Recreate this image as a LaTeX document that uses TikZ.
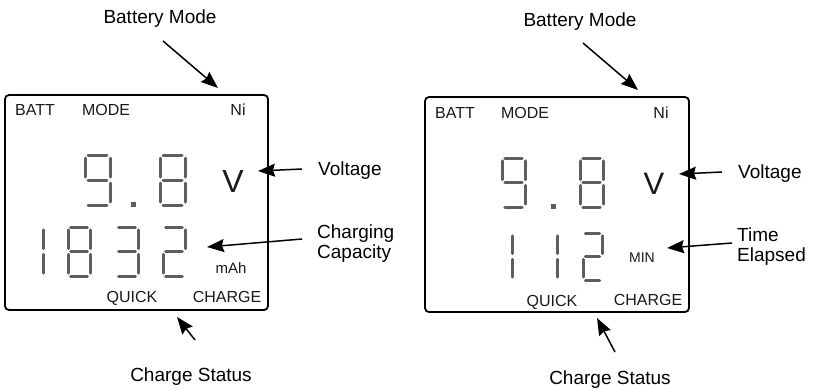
\documentclass[tikz,border=0pt]{standalone}
\usepackage{fontspec}
\setmainfont{Liberation Sans}
\usetikzlibrary{arrows.meta}
\definecolor{lcdGray}{RGB}{94,94,94}
\definecolor{lcdInk}{RGB}{25,25,25}
\newcommand{\segA}{\draw[lcdseg] (0.12,0) -- (0.88,0);}
\newcommand{\segB}{\draw[lcdseg] (1,0.06) -- (1,0.44);}
\newcommand{\segC}{\draw[lcdseg] (1,0.56) -- (1,0.94);}
\newcommand{\segD}{\draw[lcdseg] (0.12,1) -- (0.88,1);}
\newcommand{\segE}{\draw[lcdseg] (0,0.56) -- (0,0.94);}
\newcommand{\segF}{\draw[lcdseg] (0,0.06) -- (0,0.44);}
\newcommand{\segG}{\draw[lcdseg] (0.12,0.5) -- (0.88,0.5);}
\newcommand{\LcdDigit}[5]{%
\begin{scope}[shift={(#1,#2)},x=#3pt,y=-#4pt]
  \foreach \s in {#5} {\csname seg\s\endcsname}
\end{scope}}

\begin{document}
\begin{tikzpicture}[x=1pt,y=-1pt,
  lbl/.style={font=\fontsize{19}{20}\selectfont,inner sep=0pt},
  lcdtxt/.style={font=\fontsize{16}{16}\selectfont,inner sep=0pt,text=lcdInk},
  lcdframe/.style={draw,line width=1.8pt,rounded corners=4pt},
  lcdseg/.style={draw=lcdGray,line width=3pt,line cap=round},
  lcddot/.style={fill=lcdGray,minimum size=5pt,inner sep=0pt},
  ptr/.style={-{Stealth[length=17pt,width=13pt,inset=2pt]},line width=1.5pt}]
\useasboundingbox (0,0) rectangle (813,389);

% left display: charging capacity
\draw[lcdframe] (5,95) rectangle (268,310);
\node[lcdtxt] (battL) at (35,110) {BATT};
\node[lcdtxt] (modeL) at (106,110) {MODE};
\node[lcdtxt] (niL) at (238,110) {Ni};
\LcdDigit{85}{155}{25}{50}{A,B,C,D,F,G}
\node[lcddot] (dotL) at (133,204) {};
\LcdDigit{160}{155}{25}{50}{A,B,C,D,E,F,G}
\node[lcdtxt,font=\fontsize{32}{32}\selectfont] (voltL) at (233,181) {V};
\LcdDigit{21}{227}{22}{49}{B,C}
\LcdDigit{68}{227}{22}{49}{A,B,C,D,E,F,G}
\LcdDigit{116}{227}{22}{49}{A,B,C,D,G}
\LcdDigit{163}{227}{22}{49}{A,B,D,E,G}
\node[lcdtxt,font=\fontsize{15}{15}\selectfont] (mahL) at (231,268) {mAh};
\node[lcdtxt,anchor=base] (quickL) at (132,302) {QUICK};
\node[lcdtxt,anchor=base] (chargeL) at (227,302) {CHARGE};

\node[lbl,anchor=base] (modeLblL) at (160,23) {Battery Mode};
\node[lbl,anchor=base west] (voltLblL) at (318,175) {Voltage};
\node[lbl,anchor=west,align=left] (capLblL) at (317,244) {Charging\\Capacity};
\node[lbl,anchor=base] (statLblL) at (191,381) {Charge Status};
\coordinate (modeTailL) at (163,41);
\coordinate (modeTipL) at (218,88);
\coordinate (voltTailL) at (302,169);
\coordinate (voltTipL) at (258,171);
\coordinate (capTailL) at (302,239);
\coordinate (capTipL) at (207,247);
\coordinate (statTailL) at (195,340);
\coordinate (statTipL) at (177,317);
\draw[ptr] (modeTailL) -- (modeTipL);
\draw[ptr] (voltTailL) -- (voltTipL);
\draw[ptr] (capTailL) -- (capTipL);
\draw[ptr] (statTailL) -- (statTipL);

% right display: time elapsed
\draw[lcdframe] (425,97) rectangle (689,312);
\node[lcdtxt] (battR) at (455,113) {BATT};
\node[lcdtxt] (modeR) at (525,113) {MODE};
\node[lcdtxt] (niR) at (661,113) {Ni};
\LcdDigit{502}{158}{23}{49}{A,B,C,D,F,G}
\node[lcddot] (dotR) at (553,206) {};
\LcdDigit{580}{158}{23}{49}{A,B,C,D,E,F,G}
\node[lcdtxt,font=\fontsize{31}{31}\selectfont] (voltR) at (654,184) {V};
\LcdDigit{492}{233}{20}{47}{B,C}
\LcdDigit{537}{233}{20}{47}{B,C}
\LcdDigit{583}{233}{19}{47}{A,B,D,E,G}
\node[lcdtxt,font=\fontsize{14}{14}\selectfont] (minR) at (642,258) {MIN};
\node[lcdtxt,anchor=base] (quickR) at (552,306) {QUICK};
\node[lcdtxt,anchor=base] (chargeR) at (648,305) {CHARGE};

\node[lbl,anchor=base] (modeLblR) at (580,26) {Battery Mode};
\node[lbl,anchor=base west] (voltLblR) at (738,178) {Voltage};
\node[lbl,anchor=west,align=left] (timeLblR) at (737,247) {Time\\Elapsed};
\node[lbl,anchor=base] (statLblR) at (610,384) {Charge Status};
\coordinate (modeTailR) at (583,43);
\coordinate (modeTipR) at (638,90);
\coordinate (voltTailR) at (722,172);
\coordinate (voltTipR) at (679,174);
\coordinate (timeTailR) at (732,243);
\coordinate (timeTipR) at (667,248);
\coordinate (statTailR) at (615,352);
\coordinate (statTipR) at (597,318);
\draw[ptr] (modeTailR) -- (modeTipR);
\draw[ptr] (voltTailR) -- (voltTipR);
\draw[ptr] (timeTailR) -- (timeTipR);
\draw[ptr] (statTailR) -- (statTipR);
\end{tikzpicture}
\end{document}
